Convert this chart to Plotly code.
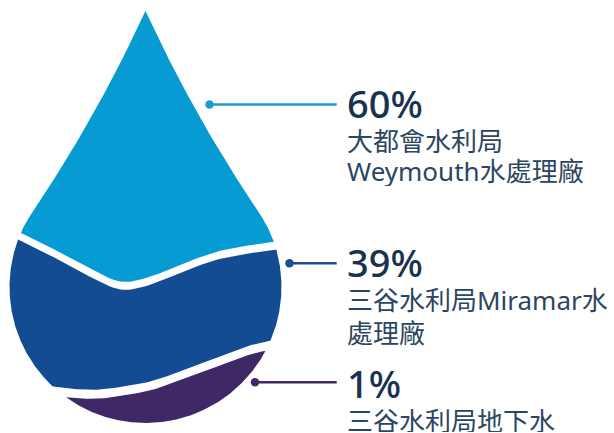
import numpy as np
import plotly.graph_objects as go

# ---------------- data ----------------
percents = [60, 39, 1]
pct_labels = ["60%", "39%", "1%"]
label_lines = [["大都會水利局", "Weymouth水處理廠"],
               ["三谷水利局Miramar水", "處理廠"],
               ["三谷水利局地下水"]]
seg_colors = ["#069bd3", "#144c93", "#3e2866"]
line_colors = ["#1c9ad6", "#1d4c94", "#40296a"]
pct_color = "#18324f"
label_color = "#2c4661"

# ---------------- geometry (decorative drop) ----------------
W, H = 614, 433
cx, cy, r = 145.5, 287.0, 136.0
tip = np.array([145.5, 11.0])
d = cy - tip[1]
alpha = np.arccos(r / d)  # angle from "up" to tangent point


def bez(p0, p1, p2, n=200):
    t = np.linspace(0, 1, n)[:, None]
    return (1 - t) ** 2 * p0 + 2 * (1 - t) * t * p1 + t ** 2 * p2


PL = np.array([cx - r * np.sin(alpha), cy - r * np.cos(alpha)])
PR = np.array([cx + r * np.sin(alpha), cy - r * np.cos(alpha)])


def side(P, inward_sign):
    m = (tip + P) / 2
    dvec = (P - tip) / np.linalg.norm(P - tip)
    perp = np.array([-dvec[1], dvec[0]]) * inward_sign
    c = m + 10 * perp
    return bez(tip, c, P)


left = side(PL, -1)
if left[100, 0] < (tip[0] + PL[0]) / 2:
    left = side(PL, 1)
right = side(PR, 1)
if right[100, 0] > (tip[0] + PR[0]) / 2:
    right = side(PR, -1)

th = np.linspace(-alpha, -(2 * np.pi - alpha), 900)
arc = np.column_stack([cx + r * np.sin(th), cy - r * np.cos(th)])
boundary = np.vstack([left, arc[1:], right[::-1][1:-1]])
bx, by = boundary[:, 0], boundary[:, 1]


def catmull(pts, n=40):
    pts = np.asarray(pts, float)
    P = np.vstack([pts[0] * 2 - pts[1], pts, pts[-1] * 2 - pts[-2]])
    out = []
    for i in range(1, len(P) - 2):
        p0, p1, p2, p3 = P[i - 1], P[i], P[i + 1], P[i + 2]
        t = np.linspace(0, 1, n, endpoint=False)[:, None]
        out.append(0.5 * ((2 * p1) + (-p0 + p2) * t + (2 * p0 - 5 * p1 + 4 * p2 - p3) * t ** 2
                          + (-p0 + 3 * p1 - 3 * p2 + p3) * t ** 3))
    out.append(P[-2][None, :])
    return np.vstack(out)


w1_pts = [(-10, 226), (20, 236.5), (66.7, 260), (100, 278), (123.3, 285.8), (150, 280.8),
          (183.3, 267.5), (216.7, 255.8), (250, 249.2), (273, 246), (300, 244)]
w2_pts = [(20, 385), (60, 392), (83, 394), (100, 394), (117, 392), (150, 386), (183, 375),
          (217, 362), (250, 350), (270, 345.5), (300, 340)]
c1 = catmull(w1_pts)
c2 = catmull(w2_pts)


def w1(x):
    return np.interp(x, c1[:, 0], c1[:, 1])


def w2(x):
    return np.interp(x, c2[:, 0], c2[:, 1])


g1, g2 = 4.0, 4.5
constraints = [
    [(lambda x: w1(x) - g1, -1)],
    [(lambda x: w1(x) + g1, 1), (lambda x: w2(x) - g2, -1)],
    [(lambda x: w2(x) + g2, 1)],
]


def region(cons):
    N = len(bx)
    mask = np.ones(N, bool)
    for f, s in cons:
        mask &= (by - f(bx)) * s > 0
    i0 = int(np.argmin(mask))
    X, Y, M = np.roll(bx, -i0), np.roll(by, -i0), np.roll(mask, -i0)
    runs, i = [], 0
    while i < N:
        if M[i]:
            j = i
            while j < N and M[j]:
                j += 1
            runs.append((i, j - 1))
            i = j
        else:
            i += 1
    xs, ys = [], []
    for k, (a, b) in enumerate(runs):
        xs += list(X[a:b + 1]); ys += list(Y[a:b + 1])
        na = runs[(k + 1) % len(runs)][0]
        px, py = X[(b + 1) % N], Y[(b + 1) % N]
        f = cons[0][0]
        for ff, s in cons:
            if (py - ff(px)) * s <= 0:
                f = ff
        cxs = np.linspace(X[b], X[na], 80)
        xs += list(cxs); ys += list(f(cxs))
    xs.append(xs[0]); ys.append(ys[0])
    return xs, ys


fig = go.Figure()
for cons, col, p in zip(constraints, seg_colors, percents):
    xs, ys = region(cons)
    fig.add_trace(go.Scatter(x=xs, y=ys, fill="toself", fillcolor=col, mode="lines",
                             line=dict(width=0, color=col), hoverinfo="skip",
                             name=f"{p}%", showlegend=False))

# connectors
dots_x = [209.5, 289.5, 255]
rows_y = [104.5, 263.3, 382.3]
line_end = 336.7
for xd, yr, col in zip(dots_x, rows_y, line_colors):
    fig.add_trace(go.Scatter(x=[xd, line_end], y=[yr, yr], mode="lines",
                             line=dict(color=col, width=2.6),
                             hoverinfo="skip", showlegend=False))
    fig.add_trace(go.Scatter(x=[xd], y=[yr], mode="markers",
                             marker=dict(size=8.5, color=col, line=dict(width=0)),
                             hoverinfo="skip", showlegend=False))

font_fam = "Noto Sans, Noto Sans CJK TC, sans-serif"
pct_y = [103, 262, 383]
label_y = [[141, 170.5], [299.5, 332.5], [420.5]]
label_h = [[24, 30], [26, 26], [23]]
ann = []
for pl, py, lines, lys, lhs in zip(pct_labels, pct_y, label_lines, label_y, label_h):
    ann.append(dict(x=345, y=py, text=pl, showarrow=False, xanchor="left", yanchor="middle",
                    height=34, valign="middle",
                    font=dict(family=font_fam, size=38, color=pct_color, weight=500)))
    for t, ly, lh in zip(lines, lys, lhs):
        ann.append(dict(x=345, y=ly, text=t, showarrow=False, xanchor="left", yanchor="middle",
                        height=lh, valign="middle",
                        font=dict(family=font_fam, size=26, color=label_color)))

fig.update_layout(
    width=W, height=H, margin=dict(l=0, r=0, t=0, b=0),
    paper_bgcolor="white", plot_bgcolor="white",
    xaxis=dict(range=[0, W], visible=False, fixedrange=True),
    yaxis=dict(range=[H, 0], visible=False, fixedrange=True),
    annotations=ann, showlegend=False,
)
fig.write_html("out.html")
